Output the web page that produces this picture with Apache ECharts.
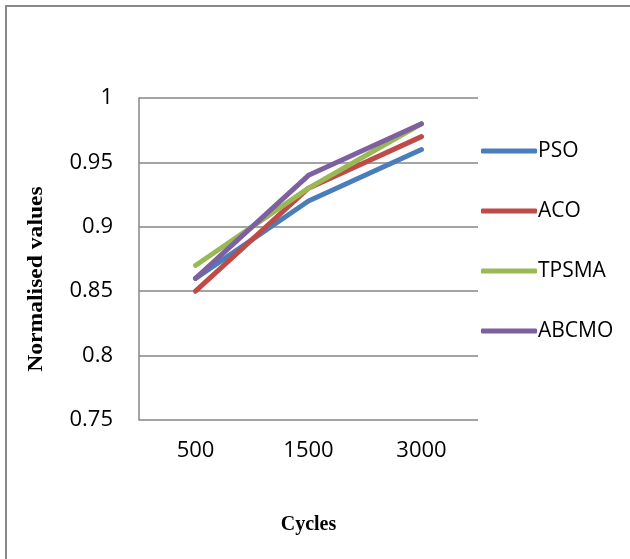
<!DOCTYPE html>
<html><head><meta charset="utf-8">
<script src="https://cdn.jsdelivr.net/npm/echarts@6/dist/echarts.min.js"></script>
<style>html,body{margin:0;padding:0;background:#fff}#c{width:630px;height:559px}</style>
</head><body><div id="c"></div>
<script>
const categories = ['500', '1500', '3000'];
const seriesNames = ['PSO', 'ACO', 'TPSMA', 'ABCMO'];
const psoValues = [0.86, 0.92, 0.96];
const acoValues = [0.85, 0.93, 0.97];
const tpsmaValues = [0.87, 0.93, 0.98];
const abcmoValues = [0.86, 0.94, 0.98];
const colors = ['#4A7EBB', '#BE4B48', '#98B954', '#7D60A0'];
const allValues = [psoValues, acoValues, tpsmaValues, abcmoValues];

const chart = echarts.init(document.getElementById('c'));
chart.setOption({
  animation: false,
  backgroundColor: '#fff',
  graphic: [{
    type: 'rect', shape: {x: 6, y: 6, width: 640, height: 570},
    style: {fill: 'none', stroke: '#898989', lineWidth: 2}, silent: true
  }, {
    type: 'text', x: 37, y: 279, rotation: Math.PI / 2, scaleX: 1.18,
    style: {text: 'Normalised values', font: 'bold 20px "Liberation Serif"', fill: '#000',
      align: 'center', verticalAlign: 'middle'}, silent: true
  }],
  grid: {left: 139, top: 98, right: 152, bottom: 139},
  legend: {
    orient: 'vertical', left: 476, top: 135, itemWidth: 56, itemHeight: 5, itemGap: 38,
    icon: 'roundRect',
    textStyle: {fontFamily: 'Open Sans', fontSize: 21, lineHeight: 22, color: '#000', padding: [0, 0, 0, -4]},
    data: seriesNames.map((n, i) => ({name: n, itemStyle: {color: colors[i], borderWidth: 0}}))
  },
  xAxis: {
    type: 'category', data: categories,
    axisLine: {show: false}, axisTick: {show: false},
    axisLabel: {fontFamily: 'Open Sans', fontSize: 22, color: '#000', margin: 20},
    name: 'Cycles', nameLocation: 'middle', nameGap: 95,
    nameTextStyle: {fontFamily: 'Liberation Serif', fontWeight: 'bold', fontSize: 20, color: '#000'}
  },
  yAxis: {
    type: 'value', min: 0.75, max: 1, interval: 0.05,
    axisLine: {show: true, lineStyle: {color: '#868686', width: 1.5}}, axisTick: {show: false},
    splitLine: {lineStyle: {color: '#868686', width: 1.5}},
    axisLabel: {fontFamily: 'Open Sans', fontSize: 22, color: '#000', margin: 26,
      formatter: v => String(Math.round(v * 100) / 100)}
  },
  series: seriesNames.map((n, i) => ({
    name: n, type: 'line', data: allValues[i], symbol: 'none', showSymbol: false,
    lineStyle: {color: colors[i], width: 5, cap: 'round', join: 'round'},
    itemStyle: {color: colors[i]}
  }))
});
</script></body></html>
